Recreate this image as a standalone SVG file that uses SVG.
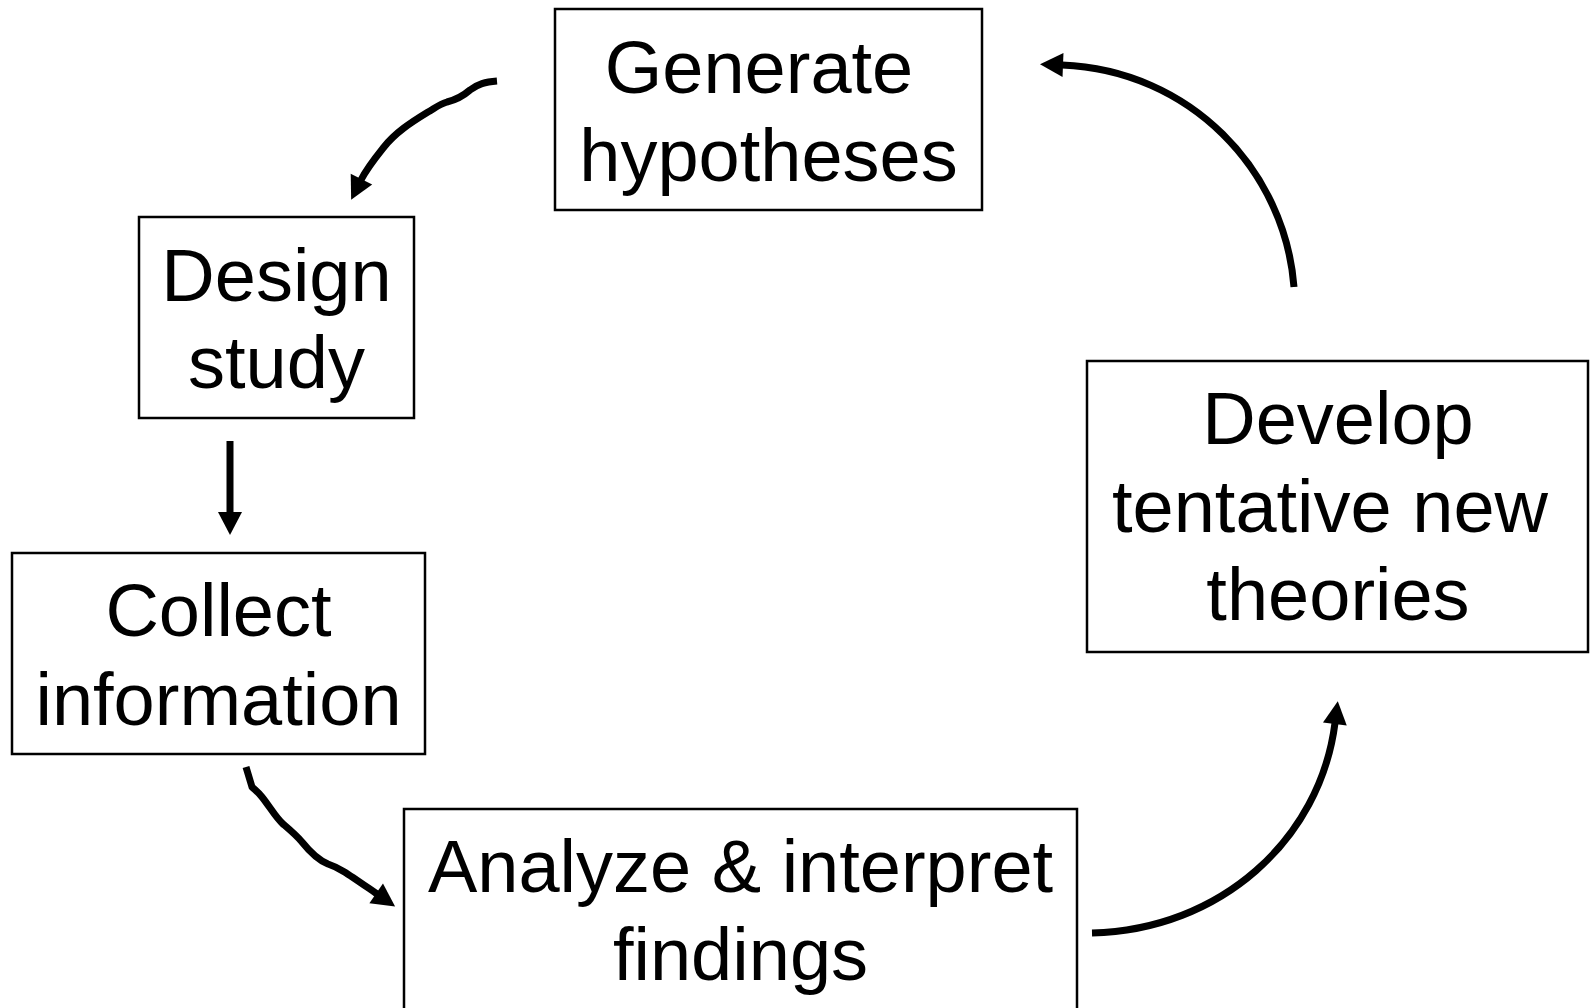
<svg xmlns="http://www.w3.org/2000/svg" width="1590" height="1008" viewBox="0 0 1590 1008">
<style>
.box{fill:#fff;stroke:#000;stroke-width:2.5}
.lbl{font-family:"Liberation Sans",Arial,sans-serif;font-size:74px;fill:#000;text-anchor:middle}
.conn{fill:none;stroke:#000;stroke-width:7;marker-end:url(#ah)}
</style>
<defs>
<marker id="ah" markerUnits="userSpaceOnUse" markerWidth="26" markerHeight="26" refX="1" refY="12" orient="auto" overflow="visible">
<path d="M0,0 L23,12 L0,24 z" fill="#000"/>
</marker>
</defs>
<rect width="1590" height="1008" fill="#fff"/>
<g id="node-generate">
<rect class="box" x="555" y="9" width="427" height="201"/>
<text class="lbl" x="759" y="93">Generate</text>
<text class="lbl" x="768.5" y="181">hypotheses</text>
</g>
<g id="node-design">
<rect class="box" x="139" y="217" width="275" height="201"/>
<text class="lbl" x="276.5" y="301">Design</text>
<text class="lbl" x="276.5" y="388">study</text>
</g>
<g id="node-collect">
<rect class="box" x="12" y="553" width="413" height="201"/>
<text class="lbl" x="218.5" y="636">Collect</text>
<text class="lbl" x="218.5" y="725">information</text>
</g>
<g id="node-analyze">
<rect class="box" x="404" y="809" width="673" height="201"/>
<text class="lbl" x="740.5" y="892">Analyze &amp; interpret</text>
<text class="lbl" x="740.5" y="980">findings</text>
</g>
<g id="node-develop">
<rect class="box" x="1087" y="361" width="501" height="291"/>
<text class="lbl" x="1338" y="444">Develop</text>
<text class="lbl" x="1330" y="532">tentative new</text>
<text class="lbl" x="1338" y="620">theories</text>
</g>
<g id="connectors">
<path class="conn" d="M497,81 C485,82 478,84 470,90 C462,97 455,100 447,102 C440,104 435,108 428,112 C410,123 395,133 384,147 C376,157 367,168 361,180"/>
<path class="conn" d="M230,441 L230,513"/>
<path class="conn" d="M246,767 L252,787 C255,790 258,792 262,797 C270,807 276,818 283,824 C290,830 296,835 302,842 C310,852 318,860 328,864 C340,868 348,874 377,894"/>
<path class="conn" d="M1092,933 C1220,930 1320,840 1335,723"/>
<path class="conn" d="M1294,287 C1285,170 1190,70 1062,65"/>
</g>
</svg>
